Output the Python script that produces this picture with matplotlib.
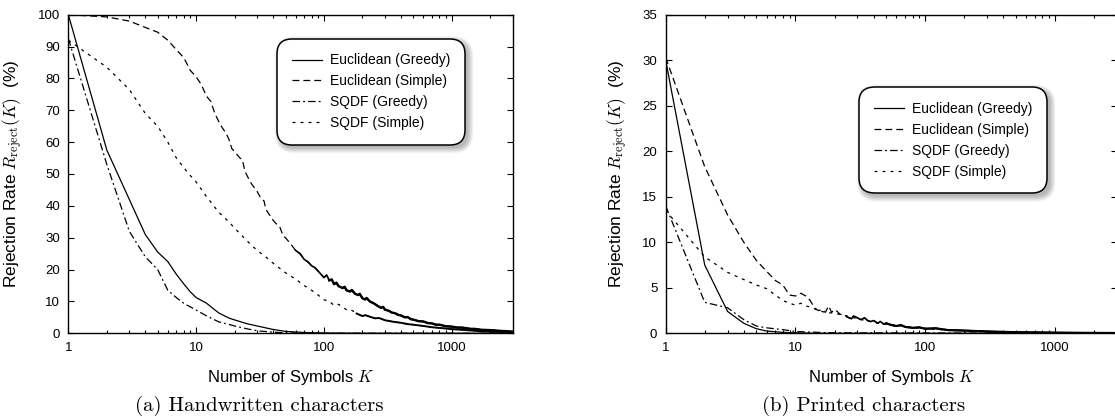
import numpy as np
import matplotlib.pyplot as plt
from matplotlib.patches import FancyBboxPatch
from matplotlib.transforms import IdentityTransform

plt.rcParams['font.family'] = ['Liberation Sans', 'DejaVu Sans']
plt.rcParams['mathtext.fontset'] = 'cm'

# (a) handwritten characters
hw_k_eg = [1, 2, 3, 4, 5, 6, 7, 8, 9, 10, 12, 15, 18, 20, 25, 30, 40, 50, 70, 100, 200, 3000]
hw_eg = [100, 57.5, 42, 31, 25.5, 22.5, 18.5, 15.5, 13, 11.2, 9.5, 6.4, 4.8, 4.2, 3.0, 2.3,
         1.2, 0.6, 0.25, 0.1, 0.02, 0]

hw_k_sg = [1, 2, 3, 4, 5, 6, 7, 8, 10, 12, 15, 20, 25, 30, 40, 50, 70, 100, 3000]
hw_sg = [92.5, 53, 32, 24, 20, 13.5, 11.2, 9.4, 7.3, 5.5, 3.6, 2.3, 1.4, 0.8, 0.35, 0.15,
         0.05, 0.02, 0]

hw_k_es = [1, 2, 3, 4, 5, 6, 7, 8, 9, 10, 11, 12, 13, 14, 15, 16, 17, 18, 19, 20, 22, 23,
           24, 25, 27, 30, 32, 34, 35, 37, 40, 42, 45, 48, 50, 55, 60, 65, 70, 75, 80, 85,
           90, 100, 105, 110, 115, 120, 125, 130, 140, 145, 150, 160, 165, 175, 185, 190,
           200, 210, 215, 230, 240, 250, 265, 280, 290, 300, 320, 340, 360, 380, 400, 430,
           450, 480, 500, 550, 600, 650, 700, 750, 800, 900, 1000, 1100, 1200, 1400, 1500,
           1700, 2000, 2300, 2600, 3000]
hw_es = [100, 99.3, 98, 96, 94.5, 92, 89, 86.5, 82.5, 80.5, 78, 74.5, 72.8, 69, 66.5, 64.5,
         63, 61, 58, 57, 55, 54.5, 51, 49.5, 47, 44.5, 42.5, 41.5, 39, 37.5, 35.5, 34.5,
         33.5, 30.5, 30, 28, 26, 25, 23.2, 22.4, 21.2, 20.6, 19.5, 17.5, 18.3, 16.6, 16.9,
         15.4, 15.9, 14.8, 14.2, 14.6, 13.5, 13.1, 13.6, 12.4, 12.0, 12.4, 11.0, 10.6, 11.1,
         9.9, 9.6, 9.2, 8.5, 8.0, 8.3, 7.4, 7.1, 6.5, 6.3, 5.8, 5.6, 5.0, 5.1, 4.4, 4.3,
         3.8, 3.7, 3.2, 3.1, 2.7, 2.7, 2.2, 2.1, 1.8, 1.8, 1.4, 1.4, 1.1, 1.0, 0.8, 0.7, 0.5]

hw_k_ss = [1, 2, 3, 4, 5, 6, 7, 8, 9, 10, 12, 15, 18, 20, 25, 30, 35, 40, 50, 60, 70, 80,
           90, 100, 110, 120, 130, 150, 160, 180, 200, 210, 250, 270, 300, 350, 400, 450,
           500, 600, 700, 850, 1000, 1200, 1500, 2000, 2500, 3000]
hw_ss = [92, 83.5, 76.5, 69, 65, 60, 55, 52, 49.5, 47.5, 43, 38, 35, 33, 29, 26, 24, 22,
         19, 17, 15, 13.5, 12, 10.5, 10.1, 8.7, 9.1, 7.4, 7.6, 6.2, 5.4, 5.7, 4.7, 4.8, 4.1,
         3.6, 3.3, 2.9, 2.7, 2.3, 1.9, 1.6, 1.3, 1.1, 0.8, 0.5, 0.4, 0.3]

# (b) printed characters
pr_k_eg = [1, 2, 3, 4, 5, 6, 8, 10, 15, 3000]
pr_eg = [30, 7.5, 2.4, 1.1, 0.5, 0.25, 0.1, 0.05, 0.0, 0.0]

pr_k_sg = [1, 2, 3, 4, 5, 6, 8, 10, 15, 20, 3000]
pr_sg = [14, 3.4, 2.8, 1.5, 0.8, 0.6, 0.4, 0.2, 0.1, 0.05, 0]

pr_k_es = [1, 2, 3, 4, 5, 6, 7, 8, 9, 10, 11, 12, 13, 14, 15, 16, 17, 18, 19, 20, 21, 22,
           24, 25, 27, 28, 30, 32, 34, 36, 38, 40, 43, 45, 48, 50, 55, 60, 65, 70, 80, 90,
           100, 120, 150, 200, 300, 500, 1000, 2000, 3000]
pr_es = [30.3, 18.3, 13, 10, 8, 6.8, 5.8, 5.3, 4.2, 4.1, 4.4, 4.1, 3.6, 2.8, 2.5, 2.6, 2.3,
         3.0, 2.3, 2.6, 2.4, 2.1, 2.0, 1.8, 1.6, 1.9, 1.7, 1.5, 1.7, 1.4, 1.3, 1.4, 1.1, 1.3,
         1.0, 1.1, 0.9, 0.8, 0.9, 0.7, 0.6, 0.65, 0.5, 0.55, 0.35, 0.3, 0.2, 0.12, 0.07,
         0.04, 0.03]

pr_k_ss = [1, 2, 3, 4, 5, 6, 7, 8, 9, 10, 11, 12, 13, 15, 17, 20, 25, 30, 40, 50, 70, 100,
           150, 200, 300, 500, 1000, 3000]
pr_ss = [13.5, 8.4, 6.7, 5.9, 5.3, 4.9, 4.2, 3.6, 3.3, 3.1, 3.3, 3.0, 2.9, 2.5, 2.3, 2.2,
         1.9, 1.6, 1.2, 1.0, 0.75, 0.5, 0.35, 0.3, 0.2, 0.1, 0.06, 0.03]

labels = ['Euclidean (Greedy)', 'Euclidean (Simple)', 'SQDF (Greedy)', 'SQDF (Simple)']
styles = [dict(linestyle='-'),
          dict(dashes=(5.5, 3.2)),
          dict(dashes=(6, 2.5, 1.5, 2.5)),
          dict(dashes=(2.4, 4))]


def draw(ax, series, ymax, tails, legend_at):
    ax.set_facecolor('none')
    for (k, v), st, lab in zip(series, styles, labels):
        ax.plot(k, v, color='black', lw=0.9, label=lab, **st)
    # noisy tails of the simple curves read as a thick solid band
    for idx, k0, w in tails:
        k, v = series[idx]
        k = np.array(k)
        v = np.array(v)
        m = k >= k0
        ax.plot(k[m], v[m], color='black', lw=w)
    ax.set_xscale('log')
    ax.set_xlim(1, 3000)
    ax.set_ylim(0, ymax)
    ax.set_xticks([1, 10, 100, 1000])
    ax.set_xticklabels(['1', '10', '100', '1000'])
    ax.tick_params(which='both', direction='in', top=True, right=True, labelsize=9.5,
                   width=0.8, pad=6)
    ax.tick_params(which='major', length=4)
    ax.tick_params(which='minor', length=2)
    for s in ax.spines.values():
        s.set_linewidth(1.0)
    ax.set_xlabel('Number of Symbols $K$', fontsize=12, labelpad=10)
    ax.set_ylabel('Rejection Rate $R_{\\mathrm{reject}}(K)$  (%)', fontsize=12.5, labelpad=9)
    leg = ax.legend(loc='upper left', bbox_to_anchor=legend_at, fontsize=10, frameon=True,
                    fancybox=True, borderpad=0.95, labelspacing=0.5, handlelength=2.2,
                    handletextpad=0.55, borderaxespad=0)
    leg.set_zorder(6)
    fr = leg.get_frame()
    fr.set_edgecolor('black')
    fr.set_linewidth(1.1)
    fr.set_facecolor('white')
    fr.set_alpha(1)
    fr.set_boxstyle('round,pad=0.1,rounding_size=1.1')
    return leg


fig = plt.figure(figsize=(11.15, 4.16), dpi=100)
ax1 = fig.add_axes([0.0613, 0.1988, 0.3986, 0.7659])
ax2 = fig.add_axes([0.597, 0.1988, 0.4048, 0.7659])

leg1 = draw(ax1, [(hw_k_eg, hw_eg), (hw_k_es, hw_es), (hw_k_sg, hw_sg), (hw_k_ss, hw_ss)],
            100, [(1, 60, 1.2), (1, 110, 1.7), (3, 180, 1.4)], (0.473, 0.92))
ax1.set_yticks(range(0, 101, 10))

leg2 = draw(ax2, [(pr_k_eg, pr_eg), (pr_k_es, pr_es), (pr_k_sg, pr_sg), (pr_k_ss, pr_ss)],
            35, [(1, 25, 1.2), (1, 50, 1.6)], (0.432, 0.768))
ax2.set_yticks(range(0, 36, 5))

fig.text(0.233, 0.012, '(a) Handwritten characters', fontsize=15, family='cmr10', ha='center')
fig.text(0.775, 0.012, '(b) Printed characters', fontsize=15, family='cmr10', ha='center')

# soft drop shadow under each legend box (needs final legend positions)
fig.canvas.draw()
renderer = fig.canvas.get_renderer()
for ax, leg in [(ax1, leg1), (ax2, leg2)]:
    bb = leg.get_frame().get_window_extent(renderer)
    for i in range(7):
        p = FancyBboxPatch((bb.x0 + 3, bb.y0 - 3), bb.width, bb.height,
                           boxstyle='round,pad=%g,rounding_size=%g' % (i * 0.9, 14 + i),
                           transform=IdentityTransform(), facecolor='black',
                           edgecolor='none', alpha=0.045, zorder=5, clip_on=False)
        ax.add_patch(p)

fig.savefig('out.png', dpi=100)
